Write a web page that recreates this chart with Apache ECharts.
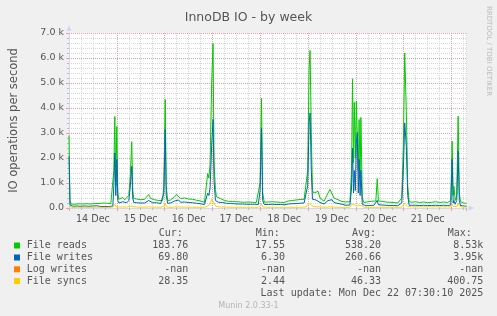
<!DOCTYPE html>
<html><head><meta charset="utf-8">
<script src="https://cdn.jsdelivr.net/npm/echarts@6/dist/echarts.min.js"></script>
<style>html,body{margin:0;padding:0;background:#f0f0f0}#c{width:497px;height:316px}</style>
</head><body><div id="c"></div><script>
// hours since 14 Dec 00:00
const hours = [
 0,0.5,1,2,3,4,5,6,7,8,9,10,11,12,13,14,15,16,17,18,19,20,21,22,
 22.5,23,23.5,24,24.5,25,26,27,28,29,30,30.7,31.5,32,32.5,33,34,35,36,37,38,39,40,41,42,43,44,45,46,47,
 47.6,48.3,48.8,49.5,50,51,52,53,54,55,56,57,58,59,60,61,62,63,64,65,66,67,68,69,
 69.6,70.2,70.8,71.6,72.3,72.8,73.5,74,75,76,77,78,79,80,81,82,83,84,85,86,87,88,89,90,91,92,93,94,95,
 95.9,96.6,97.2,98,99,100,101,102,103,104,105,106,107,108,109,110,111,112,113,114,115,116,117,118,119,
 119.8,120.5,121,121.6,122.2,123,124,125,126,127,128,129,130,131,132,133,134,135,136,137,138,139,140,141,
 141.8,142.3,142.8,143.2,143.7,144.2,144.7,145.2,145.6,146.1,146.5,147.2,
 148,149,150,151,152,153,154,154.7,155.3,156,157,158,159,160,161,162,163,164,165,166,
 167,167.8,168.5,169.3,170,170.7,
 171,172,173,174,175,176,177,178,179,180,181,182,183,184,185,186,187,188,189,190,191,
 191.6,192.3,192.8,193.2,193.8,194.6,195.3,195.9,196.5,197,198,199,199.5
];
const fileReads = [
 2900,300,160,180,150,200,170,190,160,210,170,190,160,200,180,260,180,170,200,160,190,170,180,200,
 1500,3660,900,3260,600,350,380,420,330,360,500,1200,2650,700,380,420,360,400,330,380,350,450,540,380,360,330,350,300,280,300,
 900,4340,900,300,270,320,300,450,540,500,380,370,400,350,360,330,350,340,310,300,280,250,230,260,
 1380,1200,1740,5000,6580,1800,740,450,470,380,420,300,330,270,300,260,280,250,270,240,260,230,250,240,260,230,250,220,240,
 1000,4400,600,230,260,240,270,250,280,240,260,230,250,220,260,280,250,300,280,320,300,340,320,350,400,
 1500,5600,6300,3000,700,600,650,670,400,320,270,350,600,740,700,400,340,330,280,260,250,240,230,250,
 1500,5170,1800,4220,2000,4270,4340,1500,3540,1200,3620,400,
 220,200,250,230,270,240,280,1170,280,250,270,280,240,260,230,250,220,240,200,220,
 400,2500,6200,3870,900,250,
 200,230,190,250,180,220,200,240,190,210,180,230,200,250,190,220,180,240,200,220,190,
 300,2670,500,870,300,500,3670,600,250,220,200,230,184
];
const fileWrites = [
 2070,120,60,70,60,80,60,70,60,80,60,70,60,80,70,90,60,60,70,60,70,60,70,80,
 900,2200,500,1940,300,200,220,250,200,210,300,800,1670,400,220,230,210,230,200,220,200,260,300,220,210,200,210,190,180,190,
 600,3140,500,190,170,200,190,280,340,320,230,220,240,210,220,200,210,200,190,180,170,150,140,150,
 600,500,800,2500,3540,1100,300,220,230,200,220,180,190,170,180,160,170,150,160,150,160,140,150,140,150,140,150,130,140,
 700,3200,300,140,150,140,160,150,160,140,150,140,150,130,150,160,150,170,160,180,170,190,180,200,220,
 900,3400,3800,1500,350,300,320,330,220,180,160,200,300,340,330,220,190,180,160,150,130,110,100,120,
 800,2400,600,1500,700,2600,3020,600,1940,500,1500,150,
 100,90,110,100,120,110,130,300,130,110,120,120,110,110,100,110,100,100,90,100,
 200,1500,3400,2470,500,110,
 100,110,90,110,90,100,90,110,90,100,90,100,90,110,90,100,90,110,90,100,90,
 120,1940,200,300,150,300,2270,300,100,90,80,90,70
];
const logWrites = []; // all -nan in the source
const fileSyncs = [
 60,30,25,25,25,30,25,25,25,30,25,25,25,30,25,30,25,25,25,25,25,25,25,30,
 80,150,60,140,50,40,40,40,35,35,50,80,120,60,40,40,35,40,35,35,35,40,45,35,35,35,35,30,30,30,
 60,200,60,30,30,35,30,40,45,40,35,35,35,30,35,30,30,30,30,30,30,30,30,30,
 80,100,150,340,400,200,80,50,45,40,40,35,35,30,30,30,30,30,30,30,30,30,30,30,30,30,30,30,30,
 60,150,50,30,30,30,30,30,30,30,30,30,30,30,30,30,30,30,30,35,30,35,35,35,40,
 100,200,230,120,60,50,50,50,40,35,30,35,40,45,45,35,30,30,30,30,30,30,30,30,
 80,170,100,150,100,150,170,90,140,80,120,40,
 30,30,30,30,30,30,30,50,30,30,30,30,30,30,30,30,30,30,30,30,
 40,100,200,150,60,40,
 40,45,40,45,40,45,40,45,40,45,40,45,40,45,40,45,40,45,40,45,40,
 40,150,60,80,50,60,200,80,50,40,35,40,28
];
const dayLabels = ['14 Dec','15 Dec','16 Dec','17 Dec','18 Dec','19 Dec','20 Dec','21 Dec'];
const seriesNames = ['File reads','File writes','Log writes','File syncs'];
const seriesColors = ['#00cc00','#0066b3','#ff8000','#ffcc00'];
const curVals = ['183.76','69.80','-nan','28.35'];
const minVals = ['17.55','6.30','-nan','2.44'];
const avgVals = ['538.20','260.66','-nan','46.33'];
const maxVals = ['8.53k','3.95k','-nan','400.75'];
const statHeaders = ['Cur:','Min:','Avg:','Max:'];
const lastUpdate = 'Last update: Mon Dec 22 07:30:10 2025';

const X_MAX = 199.5;
const FONT = 'DejaVu Sans';
const MONO = 'DejaVu Sans Mono';
const TXT = '#555';
const allSeries = [fileReads, fileWrites, logWrites, fileSyncs];

const chart = echarts.init(document.getElementById('c'), null, {renderer: 'canvas'});

const graphics = [];
const rowY = [245.5, 257.5, 269.3, 281];
const colRight = [188.3, 285, 381, 483.3];
const headX = [158.7, 255.7, 352, 447.7];
const colVals = [curVals, minVals, avgVals, maxVals];
statHeaders.forEach((h, j) => graphics.push({type:'text', x: headX[j], y: 233.5,
  style:{text:h, font:'10px "'+MONO+'"', fill:TXT, textAlign:'left', textVerticalAlign:'middle'}}));
seriesNames.forEach((n, i) => {
  graphics.push({type:'rect', shape:{x:14, y:rowY[i]-3, width:6, height:6}, style:{fill:seriesColors[i]}});
  graphics.push({type:'text', x:26.7, y:rowY[i], style:{text:n, font:'10px "'+MONO+'"', fill:TXT, textAlign:'left', textVerticalAlign:'middle'}});
  colVals.forEach((arr, j) => graphics.push({type:'text', x: colRight[j], y: rowY[i],
    style:{text:arr[i], font:'10px "'+MONO+'"', fill:TXT, textAlign:'right', textVerticalAlign:'middle'}}));
});
graphics.push({type:'text', x:483.3, y:293.5, style:{text:lastUpdate, font:'10px "'+MONO+'"', fill:TXT, textAlign:'right', textVerticalAlign:'middle'}});
graphics.push({type:'text', x:248.5, y:305.5, style:{text:'Munin 2.0.33-1', font:'8px "'+FONT+'"', fill:'#b4b4b4', textAlign:'center', textVerticalAlign:'middle'}});
graphics.push({type:'text', x:489, y:51, rotation:-Math.PI/2, style:{text:'RRDTOOL / TOBI OETIKER', font:'7px "'+FONT+'"', fill:'#bababa', textAlign:'center', textVerticalAlign:'middle'}});

const gridLine = (c) => ({show:true, lineStyle:{color:c, width:1, type:[1,1]}});
const noLine = {show:false};

chart.setOption({
  backgroundColor:'#f0f0f0',
  animation:false,
  title:{text:'InnoDB IO - by week', left:'center', top:6,
    textStyle:{fontFamily:FONT, fontSize:12.5, fontWeight:'normal', color:TXT}},
  grid:{left:66, top:33, width:400.5, height:175, show:true, backgroundColor:'#ffffff', borderWidth:0, containLabel:false},
  xAxis:[
    {type:'value', min:0, max:X_MAX, interval:6, position:'bottom', z:0,
     axisLine:{show:true, onZero:false, lineStyle:{color:'#cfd6f8', width:1}, symbol:['none','triangle'], symbolSize:[5,6], symbolOffset:[0,5]},
     axisTick:{show:true, length:2, lineStyle:{color:'#bbb'}}, axisLabel:{show:false},
     splitLine:gridLine('#d6d6d6')},
    {type:'value', min:0, max:X_MAX, interval:24, position:'bottom', z:1,
     axisLine:noLine, axisTick:{show:true, length:3, lineStyle:{color:'#f0a0a0'}}, axisLabel:{show:false},
     splitLine:Object.assign(gridLine('#eea0a0'), {showMinLine:false, showMaxLine:false})},
    {type:'value', min:0, max:X_MAX, interval:12, position:'bottom',
     axisLine:noLine, axisTick:noLine, splitLine:noLine,
     axisLabel:{show:true, margin:6, fontFamily:FONT, fontSize:9.6, color:TXT, showMinLabel:false, showMaxLabel:false,
       formatter:(v) => (v % 24 === 12 ? dayLabels[(v - 12) / 24] : '')}}
  ],
  yAxis:[
    {type:'value', min:0, max:7000, interval:200, position:'left', z:0,
     axisLine:{show:true, onZero:false, lineStyle:{color:'#cfd6f8', width:1}, symbol:['none','triangle'], symbolSize:[5,6], symbolOffset:[0,5]},
     axisTick:{show:true, length:2, lineStyle:{color:'#bbb'}}, axisLabel:{show:false},
     splitLine:Object.assign(gridLine('#d6d6d6'), {showMinLine:false})},
    {type:'value', min:0, max:7000, interval:1000, position:'left', z:1,
     axisLine:noLine, axisTick:{show:true, length:3, lineStyle:{color:'#f0a0a0'}},
     splitLine:Object.assign(gridLine('#eea0a0'), {showMinLine:false}),
     name:'IO operations per second', nameLocation:'middle', nameGap:49, nameRotate:90,
     nameTextStyle:{fontFamily:FONT, fontSize:11.5, color:TXT},
     axisLabel:{show:true, margin:5, fontFamily:FONT, fontSize:9.5, color:TXT,
       formatter:(v) => (v === 0 ? '0.0' : (v / 1000).toFixed(1) + ' k')}}
  ],
  series: allSeries.map((arr, i) => ({
    name: seriesNames[i], type:'line', xAxisIndex:0, yAxisIndex:0,
    symbol:'none', showSymbol:false, z: 3 + i,
    lineStyle:{color:seriesColors[i], width:1}, itemStyle:{color:seriesColors[i]},
    data: arr.map((v, k) => [hours[k], v])
  })),
  graphic: graphics
});
</script></body></html>
